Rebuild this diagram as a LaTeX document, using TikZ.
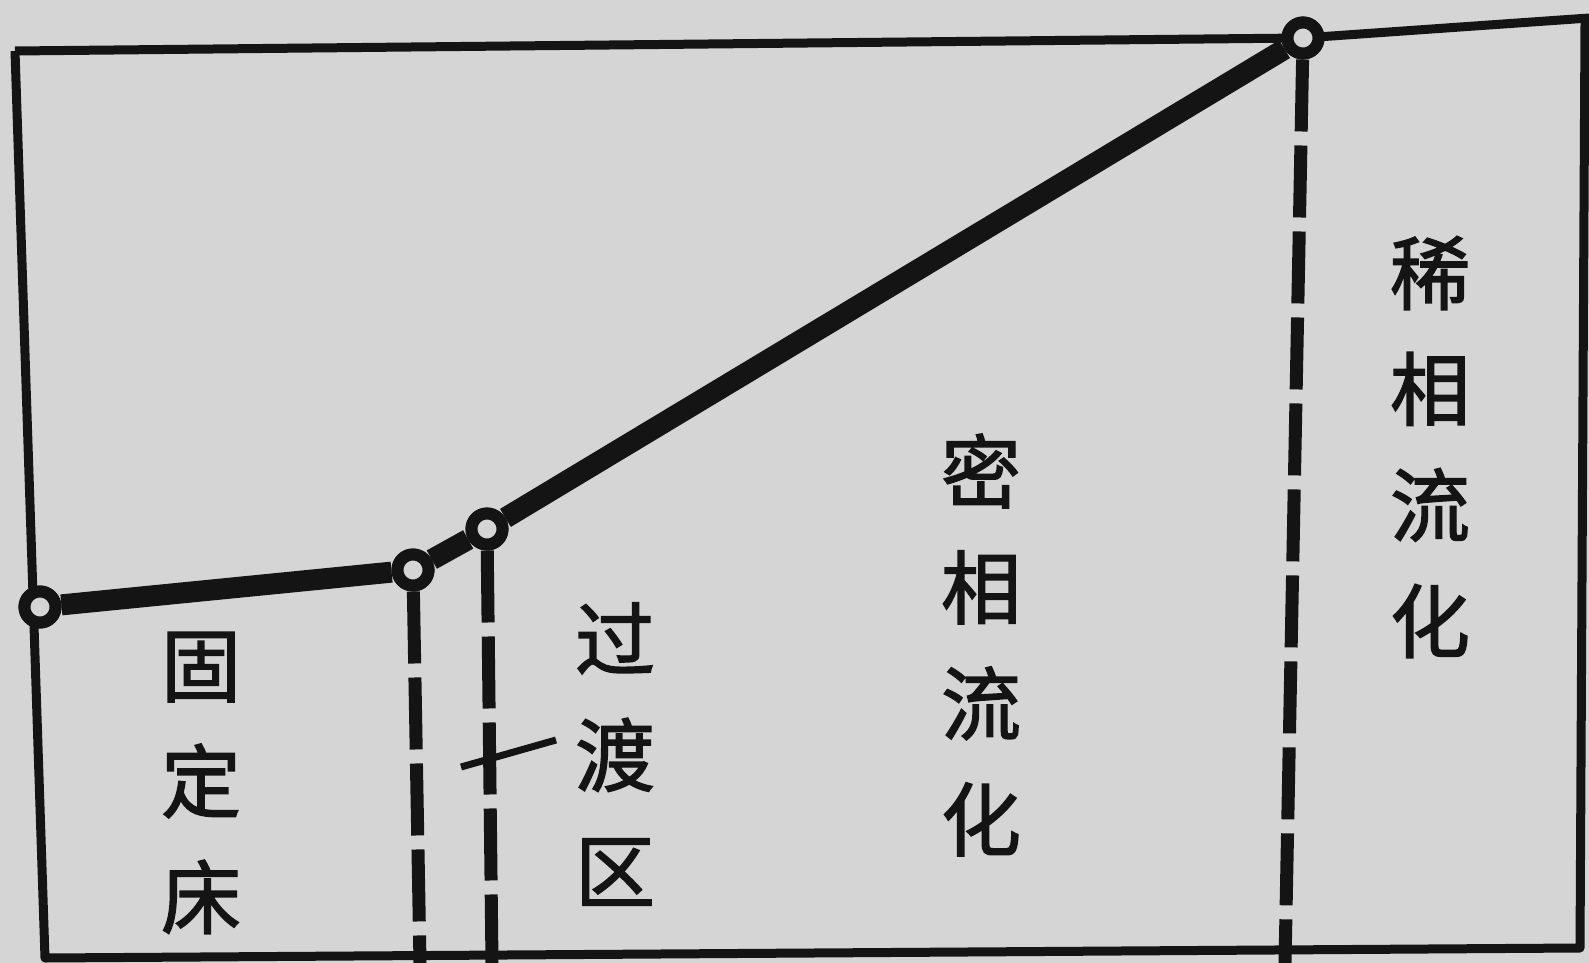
\documentclass[tikz,border=0pt]{standalone}
\usepackage{fontspec}
\newfontfamily\cjk{Noto Sans CJK SC}[FakeBold=1.8]
\definecolor{paper}{HTML}{D5D5D5}
\definecolor{ink}{HTML}{141414}
\tikzset{
  frameline/.style={draw=ink, line width=9pt, line join=round},
  curve/.style={draw=ink, line width=21pt, line join=round},
  pt/.style={circle, draw=ink, fill=paper, line width=12pt, minimum size=31pt, inner sep=0pt},
  bound/.style={draw=ink, line width=13pt, dash pattern=on 72pt off 14pt},
  lab/.style={text=ink, inner sep=0pt, align=center, font=\cjk\fontsize{80}{116}\selectfont},
}
\begin{document}
\begin{tikzpicture}[x=1pt,y=-1pt]
\fill[paper] (0,0) rectangle (1589,963);
\useasboundingbox (0,0) rectangle (1589,963);
% frame
\coordinate (tl) at (15,51);
\coordinate (tr) at (1589,18);
\coordinate (rt) at (1585,22);
\coordinate (br) at (1580,948);
\coordinate (bl) at (45,958);
% points
\node[pt] (p1) at (40,607) {};
\node[pt] (p2) at (413,570) {};
\node[pt] (p3) at (487,529) {};
\node[pt] (p4) at (1303,38) {};
\draw[frameline] (tl) -- (p4.center) -- (tr);
\draw[frameline] (rt) -- (br) -- (bl) -- (tl);
% boundaries
\coordinate (b1) at (420,963);
\coordinate (b2) at (492,963);
\coordinate (b3) at (1285,963);
\draw[bound] (p2) -- (b1);
\draw[bound] (p3) -- (b2);
\draw[bound] (p4) -- (b3);
% curve
\draw[curve] (p1) -- (p2) -- (p3) -- (p4);
\node[pt] at (p1) {};
\node[pt] at (p2) {};
\node[pt] at (p3) {};
\node[pt] at (p4) {};
% tick
\coordinate (t1) at (461,767);
\coordinate (t2) at (556,740);
\draw[ink, line width=7pt] (t1) -- (t2);
% labels
\node[lab] (l1) at (201,783) {固\\定\\床};
\node[lab] (l2) at (615,754) {过\\渡\\区};
\node[lab] (l3) at (981,645) {密\\相\\流\\化};
\node[lab] (l4) at (1430,447) {稀\\相\\流\\化};
\end{tikzpicture}
\end{document}
